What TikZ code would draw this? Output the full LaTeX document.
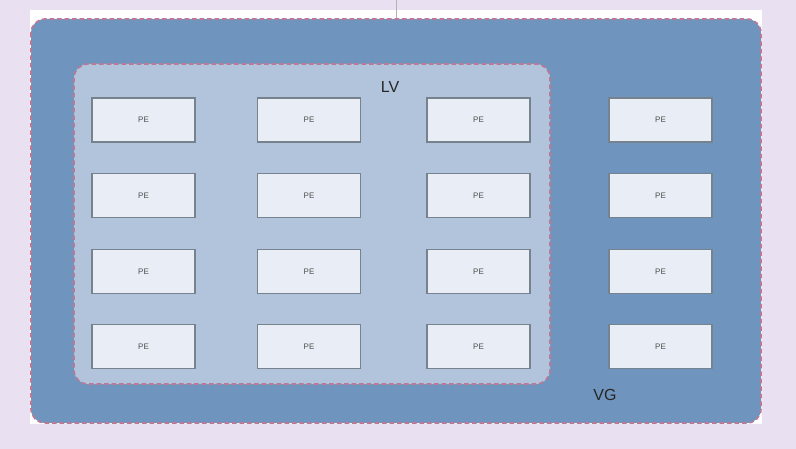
\documentclass[tikz,border=0pt]{standalone}
\usepackage{fontspec}
\setmainfont{Liberation Sans}
\begin{document}
\begin{tikzpicture}[x=1pt,y=-1pt,
  pebox/.style={draw=peborder,line width=1.8pt,fill=pefill,minimum width=103pt,minimum height=44pt,inner sep=0pt,font=\fontsize{8}{9}\selectfont,text=black!70},
  groupbox/.style={draw=dashpink,dash pattern=on 4.5pt off 3pt,line width=1.6pt,rounded corners=14pt}]
\definecolor{bgl}{HTML}{E9E1F2}
\definecolor{vgfill}{HTML}{6F95BF}
\definecolor{lvfill}{HTML}{B1C4DC}
\definecolor{pefill}{HTML}{E9EEF6}
\definecolor{peborder}{HTML}{76838F}
\definecolor{dashpink}{HTML}{BC7894}
\useasboundingbox (0,0) rectangle (796,449);
\fill[bgl] (0,0) rectangle (796,449);
\fill[white] (30,10) rectangle (762,424);
\draw[black!30,line width=0.8pt] (396,0) -- (396,20);
\draw[groupbox,fill=vgfill] (31,19) rectangle (761,423);
\draw[groupbox,fill=lvfill] (74,64) rectangle (550,384);
\node[font=\fontsize{16}{17}\selectfont,text=black!85] (lv) at (390,87) {LV};
\node[font=\fontsize{16}{17}\selectfont,text=black!85] (vg) at (605,395) {VG};
\foreach \c/\x in {1/143.5,2/309,3/478.5,4/660.5}{
  \foreach \r/\y in {1/120,2/195.5,3/271.5,4/346.5}{
    \node[pebox] (pe\c\r) at (\x,\y) {PE};
  }
}
\end{tikzpicture}
\end{document}
